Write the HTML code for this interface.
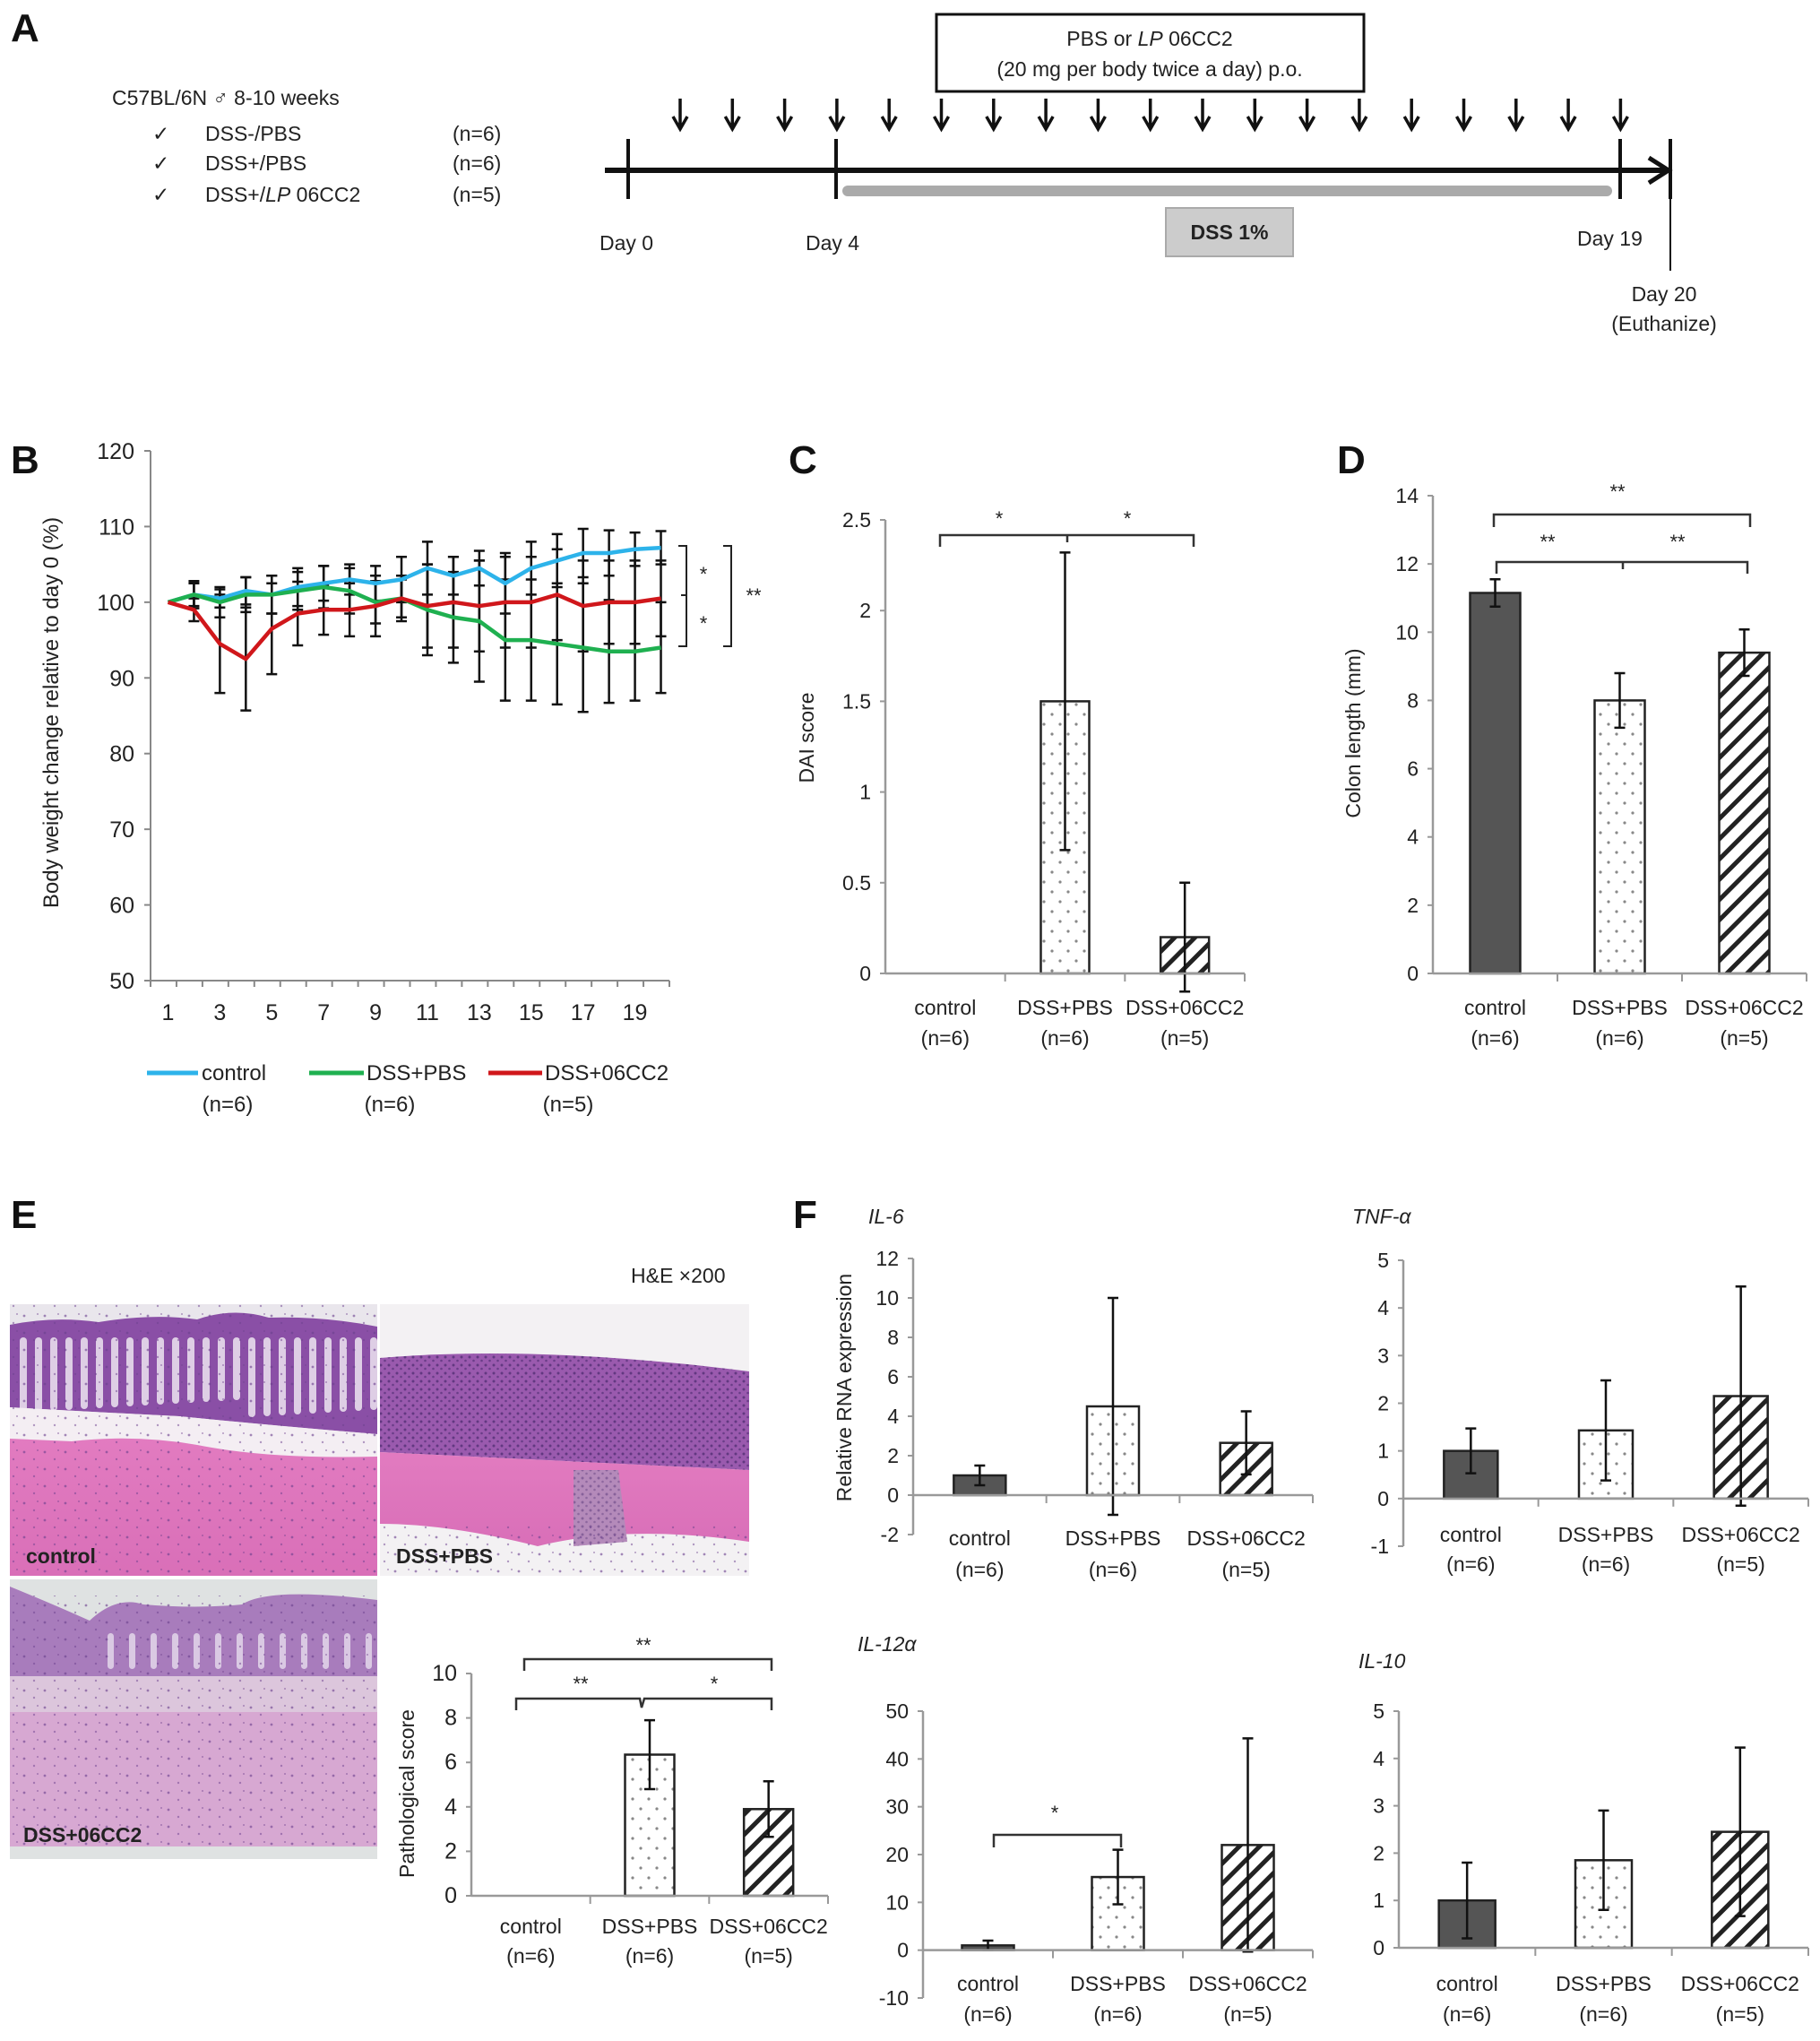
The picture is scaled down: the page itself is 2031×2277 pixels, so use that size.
<!DOCTYPE html>
<html><head><meta charset="utf-8">
<style>
html,body{margin:0;padding:0;background:#fff;}
svg{display:block;}
text{font-family:"Liberation Sans Narrow","Liberation Sans",sans-serif;fill:#222;}
.lbl{font-size:23px;}
.letter{font-family:"Liberation Sans",sans-serif;font-weight:bold;font-size:44px;fill:#111;}
</style></head>
<body>
<svg id="fig" width="2031" height="2277" viewBox="0 0 2031 2277" xmlns="http://www.w3.org/2000/svg">
<defs>
 <pattern id="dots" width="18" height="22" patternUnits="userSpaceOnUse">
  <rect width="18" height="22" fill="#fff"/>
  <circle cx="4" cy="5" r="1.6" fill="#888"/><circle cx="13" cy="16" r="1.6" fill="#888"/>
 </pattern>
 <pattern id="hatch" width="16" height="16" patternUnits="userSpaceOnUse" patternTransform="rotate(45)">
  <rect width="16" height="16" fill="#fff"/><rect x="0" y="0" width="5" height="16" fill="#222"/>
 </pattern>
 <pattern id="nuclei" width="23" height="19" patternUnits="userSpaceOnUse">
  <circle cx="4" cy="5" r="1.4" fill="#6b3f8e" opacity="0.6"/><circle cx="15" cy="13" r="1.2" fill="#6b3f8e" opacity="0.5"/><circle cx="19" cy="3" r="1" fill="#6b3f8e" opacity="0.5"/>
 </pattern>
 <pattern id="inflam" width="9" height="9" patternUnits="userSpaceOnUse">
  <circle cx="2" cy="2" r="1.5" fill="#4a2a6e" opacity="0.7"/><circle cx="6.5" cy="6" r="1.3" fill="#4a2a6e" opacity="0.6"/>
 </pattern>
 <linearGradient id="muscle" x1="0" y1="0" x2="0" y2="1"><stop offset="0" stop-color="#e27bc0"/><stop offset="1" stop-color="#d96fb8"/></linearGradient>
</defs>

<!-- PANEL A -->
<g>
 <text class="letter" x="12" y="46">A</text>
 <text class="lbl" x="125" y="117">C57BL/6N ♂ 8-10 weeks</text>
 <g class="lbl">
  <text class="lbl" x="170" y="157">✓</text><text class="lbl" x="229" y="157">DSS-/PBS</text><text class="lbl" x="505" y="157">(n=6)</text>
  <text class="lbl" x="170" y="190">✓</text><text class="lbl" x="229" y="190">DSS+/PBS</text><text class="lbl" x="505" y="190">(n=6)</text>
  <text class="lbl" x="170" y="225">✓</text><text class="lbl" x="229" y="225">DSS+/<tspan font-style="italic">LP</tspan> 06CC2</text><text class="lbl" x="505" y="225">(n=5)</text>
 </g>
 <rect x="1045" y="16" width="477" height="86" fill="#fff" stroke="#111" stroke-width="3"/>
 <text class="lbl" x="1283" y="51" text-anchor="middle">PBS or <tspan font-style="italic">LP</tspan> 06CC2</text>
 <text class="lbl" x="1283" y="85" text-anchor="middle">(20 mg per body twice a day) p.o.</text>
 <g id="arrows"></g>
 <line x1="675" y1="190" x2="1860" y2="190" stroke="#111" stroke-width="6"/>
 <path d="M1840 176 L1862 190 L1840 204" fill="none" stroke="#111" stroke-width="5"/>
 <line x1="701" y1="155" x2="701" y2="222" stroke="#111" stroke-width="4"/>
 <line x1="933" y1="155" x2="933" y2="222" stroke="#111" stroke-width="4"/>
 <line x1="1808" y1="155" x2="1808" y2="222" stroke="#111" stroke-width="4"/>
 <line x1="1864" y1="155" x2="1864" y2="222" stroke="#111" stroke-width="4"/>
 <line x1="1864" y1="222" x2="1864" y2="302" stroke="#111" stroke-width="2"/>
 <rect x="940" y="207" width="859" height="12" rx="6" fill="#aaa"/>
 <rect x="1301" y="232" width="142" height="54" fill="#ccc" stroke="#aaa" stroke-width="2"/>
 <text class="lbl" x="1372" y="267" text-anchor="middle" font-weight="bold" fill="#555">DSS 1%</text>
 <text class="lbl" x="669" y="279">Day 0</text>
 <text class="lbl" x="899" y="279">Day 4</text>
 <text class="lbl" x="1760" y="274">Day 19</text>
 <text class="lbl" x="1857" y="336" text-anchor="middle">Day 20</text>
 <text class="lbl" x="1857" y="369" text-anchor="middle">(Euthanize)</text>
</g>

<!-- PANEL B -->
<g>
 <text class="letter" x="12" y="528">B</text>
 <g id="bchart"></g>
</g>

<!-- PANEL C, D -->
<text class="letter" x="880" y="528">C</text>
<text class="letter" x="1492" y="528">D</text>
<g id="cchart"></g>
<g id="dchart"></g>

<!-- PANEL E -->
<g>
 <text class="letter" x="12" y="1370">E</text>
 <text class="lbl" x="704" y="1431">H&amp;E ×200</text>
 <g>
  <rect x="11" y="1455" width="410" height="303" fill="#e9e6ec"/>
  <path d="M11 1478 Q60 1468 110 1475 Q170 1465 220 1472 Q260 1458 300 1470 Q360 1468 421 1480 L421 1600 Q300 1590 200 1580 Q100 1575 11 1570 Z" fill="#8a4fa6"/>
  <g id="crypts"></g>
  <path d="M11 1570 Q100 1575 200 1580 Q300 1590 421 1600 L421 1625 Q300 1628 220 1612 Q150 1600 80 1608 L11 1605 Z" fill="#f4eef3"/>
  <path d="M11 1605 L80 1608 Q150 1600 220 1612 Q300 1628 421 1625 L421 1758 L11 1758 Z" fill="url(#muscle)"/>
  <rect x="11" y="1455" width="410" height="303" fill="url(#nuclei)"/>
  <text x="29" y="1744" font-size="23" font-weight="bold" fill="#333">control</text>
 </g>
 <g>
  <rect x="424" y="1455" width="412" height="303" fill="#f3f1f3"/>
  <path d="M424 1515 Q600 1500 836 1530 L836 1640 L424 1620 Z" fill="#9a5aae"/>
  <path d="M424 1515 Q600 1500 836 1530 L836 1640 L424 1620 Z" fill="url(#inflam)"/>
  <path d="M424 1620 L836 1640 L836 1720 Q700 1700 600 1725 Q500 1700 424 1700 Z" fill="url(#muscle)"/>
  <path d="M640 1640 L690 1640 L700 1720 L640 1725 Z" fill="#b48aba"/>
  <path d="M640 1640 L690 1640 L700 1720 L640 1725 Z" fill="url(#inflam)" opacity="0.6"/>
  <rect x="424" y="1700" width="412" height="58" fill="url(#nuclei)"/>
  <text x="442" y="1744" font-size="23" font-weight="bold" fill="#333">DSS+PBS</text>
 </g>
 <g>
  <rect x="11" y="1762" width="410" height="312" fill="#dfe2e2"/>
  <path d="M11 1770 Q60 1790 100 1808 Q130 1780 160 1790 Q220 1795 270 1790 Q300 1770 421 1785 L421 1870 L11 1870 Z" fill="#a87cbc"/>
  <g id="crypts2"></g>
  <path d="M11 1870 L421 1870 L421 1910 L11 1910 Z" fill="#dcc6dc"/>
  <path d="M11 1910 L421 1910 L421 2060 L11 2060 Z" fill="#d7a8d2"/>
  <rect x="11" y="1780" width="410" height="280" fill="url(#nuclei)"/>
  <text x="26" y="2055" font-size="23" font-weight="bold" fill="#333">DSS+06CC2</text>
 </g>
 <g id="echart"></g>
</g>

<!-- PANEL F -->
<g>
 <text class="letter" x="885" y="1370">F</text>
 <text class="lbl" x="969" y="1365" font-style="italic">IL-6</text>
 <text class="lbl" x="1509" y="1365" font-style="italic">TNF-α</text>
 <text class="lbl" x="957" y="1842" font-style="italic">IL-12α</text>
 <text class="lbl" x="1516" y="1861" font-style="italic">IL-10</text>
 <g id="il6"></g>
 <g id="tnf"></g>
 <g id="il12"></g>
 <g id="il10"></g>
</g>
</svg>

<script>
// ===== DATA =====
const cats = ['control','DSS+PBS','DSS+06CC2'];
const catNs = ['(n=6)','(n=6)','(n=5)'];
const days = [1,2,3,4,5,6,7,8,9,10,11,12,13,14,15,16,17,18,19,20];
const dayTicks = [1,3,5,7,9,11,13,15,17,19];
const bwTicks = [50,60,70,80,90,100,110,120];
const controlWeight = [100,101,100.5,101.5,101,102,102.5,103,102.5,103,104.5,103.5,104.5,102.5,104.5,105.5,106.5,106.5,107,107.2];
const controlErr = [0,1.5,1.2,1.8,2.5,2.5,2.3,2,2.3,3,3.5,2.5,2.3,4,3.5,3.5,3.2,3,2.2,2.2];
const pbsWeight = [100,101,100,101,101,101.5,102,101.5,100,100.5,99,98,97.5,95,95,94.5,94,93.5,93.5,94];
const pbsErr = [0,1.8,2,2.3,2.5,2.5,2.8,3,2.8,3,6,6,8,8,8,8,8.5,6.8,6.5,6];
const lpWeight = [100,99,94.5,92.5,96.5,98.5,99,99,99.5,100.5,99.5,100,99.5,100,100,101,99.5,100,100,100.5];
const lpErr = [0,1.5,6.5,6.8,6,4.2,3.3,3.5,4,2.5,5.5,6,6,6,6,6,6,5.5,5.5,5];

const daiTicks = [0,0.5,1,1.5,2,2.5];
const daiVals = [0,1.5,0.2];
const daiErr = [0,0.82,0.3];
const colonTicks = [0,2,4,6,8,10,12,14];
const colonVals = [11.15,8.0,9.4];
const colonErr = [0.4,0.8,0.68];
const pathTicks = [0,2,4,6,8,10];
const pathVals = [0,6.35,3.9];
const pathErr = [0,1.55,1.25];
const il6Ticks = [-2,0,2,4,6,8,10,12];
const il6Vals = [1,4.5,2.65];
const il6Err = [0.5,5.5,1.6];
const tnfTicks = [-1,0,1,2,3,4,5];
const tnfVals = [1,1.43,2.15];
const tnfErr = [0.47,1.05,2.3];
const il12Ticks = [-10,0,10,20,30,40,50];
const il12Vals = [1,15.3,22];
const il12Err = [1,5.7,22.3];
const il10Ticks = [0,1,2,3,4,5];
const il10Vals = [1,1.85,2.45];
const il10Err = [0.8,1.05,1.78];

// ===== HELPERS =====
const NS='http://www.w3.org/2000/svg';
function mk(parent, tag, attrs, txt){
  const e=document.createElementNS(NS,tag);
  for(const k in attrs) e.setAttribute(k,attrs[k]);
  if(txt!==undefined) e.textContent=txt;
  parent.appendChild(e); return e;
}

// histology crypts (decoration)
(function(){
  const g=document.getElementById('crypts');
  for(let x=22;x<415;x+=17){
    const c=mk(g,'rect',{x:x,y:1492,width:8,height:70+((x*7)%20),rx:4,fill:'#ece4f0',opacity:0.85});
    
    
  }
  const g2=document.getElementById('crypts2');
  for(let x=120;x<415;x+=24){
    const c=mk(g2,'rect',{x:x,y:1822,width:7,height:40+((x*5)%15),rx:3.5,fill:'#e6dcec',opacity:0.8});
    
    
  }
})();

// arrows
(function(){
  const g=document.getElementById('arrows');
  for(let i=0;i<19;i++){
    const x=759+i*58.3;
    const a=mk(g,'path',{d:`M${x} 110 L${x} 143 M${x-8} 130 L${x} 144 L${x+8} 130`,fill:'none',stroke:'#111','stroke-width':3.5});
    
    
  }
})();

// ===== LINE CHART B =====
(function(){
  const g=document.getElementById('bchart');
  const x0=168,x1=747,yTopPx=503,yBotPx=1094,vMin=50,vMax=120;
  const slot=(x1-x0)/days.length;
  const X=d=>x0+slot*(d-0.5)+5;
  const Y=v=>yBotPx-(v-vMin)/(vMax-vMin)*(yBotPx-yTopPx);
  mk(g,'line',{x1:x0,y1:yTopPx,x2:x0,y2:yBotPx,stroke:'#888','stroke-width':2});
  mk(g,'line',{x1:x0,y1:yBotPx,x2:x1,y2:yBotPx,stroke:'#888','stroke-width':2});
  bwTicks.forEach(t=>{
    mk(g,'line',{x1:x0-7,y1:Y(t),x2:x0,y2:Y(t),stroke:'#888','stroke-width':2});
    const tl=mk(g,'text',{x:x0-18,y:Y(t)+9,'text-anchor':'end','font-size':25},t);
    
    
  });
  for(let i=0;i<=days.length;i++) mk(g,'line',{x1:x0+i*slot,y1:yBotPx,x2:x0+i*slot,y2:yBotPx+7,stroke:'#888','stroke-width':2});
  dayTicks.forEach(d=>{
    const tl=mk(g,'text',{x:X(d),y:1138,'text-anchor':'middle','font-size':25},d);
    
    
  });
  const yt=mk(g,'text',{x:0,y:0,'text-anchor':'middle','font-size':24,transform:'translate(65,795) rotate(-90)'},'Body weight change relative to day 0  (%)');
  
  
  const series=[[controlWeight,controlErr,'#2db3ea','control'],[pbsWeight,pbsErr,'#1fb050','dss-pbs'],[lpWeight,lpErr,'#d0171b','dss-06cc2']];
  series.forEach(([vals,errs,col,nm])=>{
    vals.forEach((v,i)=>{
      if(errs[i]>0){
        const x=X(days[i]);
        const eb=mk(g,'path',{d:`M${x} ${Y(v+errs[i])} L${x} ${Y(v-errs[i])} M${x-6} ${Y(v+errs[i])} L${x+6} ${Y(v+errs[i])} M${x-6} ${Y(v-errs[i])} L${x+6} ${Y(v-errs[i])}`,stroke:'#111','stroke-width':2.5,fill:'none'});
        
        
      }
    });
  });
  series.forEach(([vals,errs,col,nm])=>{
    const pts=vals.map((v,i)=>X(days[i])+','+Y(v)).join(' ');
    const pl=mk(g,'polyline',{points:pts,fill:'none',stroke:col,'stroke-width':4.5,'stroke-linejoin':'round'});
    
    
  });
  mk(g,'path',{d:'M757 609 L766 609 L766 721 L757 721 M766 664 L760 664',fill:'none',stroke:'#222','stroke-width':2});
  mk(g,'path',{d:'M807 609 L816 609 L816 721 L807 721',fill:'none',stroke:'#222','stroke-width':2});
  mk(g,'text',{x:785,y:648,'text-anchor':'middle','font-size':22},'*');
  mk(g,'text',{x:785,y:703,'text-anchor':'middle','font-size':22},'*');
  mk(g,'text',{x:841,y:672,'text-anchor':'middle','font-size':22},'**');
  const leg=[[164,221,225,254,'#2db3ea','control'],[345,406,409,435,'#1fb050','DSS+PBS'],[545,605,608,634,'#d0171b','DSS+06CC2']];
  leg.forEach(([a,b,tx,nx,col,lab],i)=>{
    const lg=mk(g,'g',{});
    
    
    mk(lg,'line',{x1:a,y1:1197,x2:b,y2:1197,stroke:col,'stroke-width':5});
    mk(lg,'text',{x:tx,y:1205,'font-size':24},lab);
    mk(lg,'text',{x:nx,y:1240,'font-size':24,'text-anchor':'middle'},catNs[i]);
  });
})();

// ===== BAR CHARTS =====
function barChart(id,cfg,ticks,vals,errs,title){
  const g=document.getElementById(id);
  const {x0,x1,pTop,pBot,vMin,vMax,bw,labY,labY2}=cfg;
  const Y=v=>pBot-(v-vMin)/(vMax-vMin)*(pBot-pTop);
  const slot=(x1-x0)/3;
  const C=i=>x0+slot*(i+0.5);
  mk(g,'line',{x1:x0,y1:pTop,x2:x0,y2:pBot,stroke:'#999','stroke-width':2.5});
  ticks.forEach(t=>{
    mk(g,'line',{x1:x0-6,y1:Y(t),x2:x0,y2:Y(t),stroke:'#999','stroke-width':2});
    const tl=mk(g,'text',{x:x0-16,y:Y(t)+8,'text-anchor':'end','font-size':cfg.fs||23},t);
    
    
  });
  const fills=['#555','url(#dots)','url(#hatch)'];
  vals.forEach((v,i)=>{
    const top=Y(Math.max(v,0)), base=Y(0);
    if(v!==0){
      const r=mk(g,'rect',{x:C(i)-bw/2,y:top,width:bw,height:base-top,fill:fills[i],stroke:'#222','stroke-width':2.5});
      
      
    }
    if(errs[i]>0){
      const x=C(i),a=Y(v+errs[i]),b=Y(v-errs[i]);
      const eb=mk(g,'path',{d:`M${x} ${a} L${x} ${b} M${x-6} ${a} L${x+6} ${a} M${x-6} ${b} L${x+6} ${b}`,stroke:'#111','stroke-width':2.5,fill:'none'});
      
      
    }
  });
  const zy=Y(0);
  mk(g,'line',{x1:x0,y1:zy,x2:x1,y2:zy,stroke:'#999','stroke-width':2.5});
  for(let i=1;i<=3;i++) mk(g,'line',{x1:x0+slot*i,y1:zy,x2:x0+slot*i,y2:zy+9,stroke:'#999','stroke-width':2});
  cats.forEach((c,i)=>{
    const t1=mk(g,'text',{x:C(i),y:labY,'text-anchor':'middle','font-size':23},c);
    
    
    mk(g,'text',{x:C(i),y:labY2,'text-anchor':'middle','font-size':23},catNs[i]);
  });
  if(title){
    const yt=mk(g,'text',{x:0,y:0,'text-anchor':'middle','font-size':23,transform:`translate(${title[1]},${title[2]}) rotate(-90)`},title[0]);
    
    
  }
  return g;
}
function bracket(g,d,stars){
  mk(g,'path',{d:d,fill:'none',stroke:'#333','stroke-width':2.5});
  stars.forEach(([x,y,s])=>mk(g,'text',{x:x,y:y,'text-anchor':'middle','font-size':22},s));
}

let g;
g=barChart('cchart',{x0:988,x1:1389,pTop:580,pBot:1086,vMin:0,vMax:2.5,bw:54,labY:1132,labY2:1166},daiTicks,daiVals,daiErr,['DAI  score',908,823]);
bracket(g,'M1049 610 L1049 597 L1332 597 L1332 610 M1191 597 L1191 605',[[1115,586,'*'],[1258,586,'*']]);
g=barChart('dchart',{x0:1599,x1:2016,pTop:553,pBot:1086,vMin:0,vMax:14,bw:56,labY:1132,labY2:1166},colonTicks,colonVals,colonErr,['Colon length  (mm)',1518,818]);
bracket(g,'M1667 588 L1667 574 L1953 574 L1953 588',[[1805,556,'**']]);
bracket(g,'M1670 640 L1670 627 L1950 627 L1950 640 M1811 627 L1811 635',[[1727,612,'**'],[1872,612,'**']]);
g=barChart('echart',{x0:526,x1:924,pTop:1867,pBot:2115,vMin:0,vMax:10,bw:55,labY:2157,labY2:2190,fs:25},pathTicks,pathVals,pathErr,['Pathological score',462,2001]);
bracket(g,'M585 1864 L585 1851 L861 1851 L861 1864',[[718,1843,'**']]);
bracket(g,'M576 1908 L576 1895 L714 1895 L716 1905 L719 1895 L861 1895 L861 1908',[[648,1886,'**'],[797,1886,'*']]);
barChart('il6',{x0:1019,x1:1465,pTop:1404,pBot:1712,vMin:-2,vMax:12,bw:58,labY:1724,labY2:1759},il6Ticks,il6Vals,il6Err,['Relative RNA expression',950,1548]);
barChart('tnf',{x0:1566,x1:2018,pTop:1406,pBot:1725,vMin:-1,vMax:5,bw:60,labY:1720,labY2:1753},tnfTicks,tnfVals,tnfErr,null);
g=barChart('il12',{x0:1030,x1:1465,pTop:1909,pBot:2229,vMin:-10,vMax:50,bw:58,labY:2221,labY2:2255},il12Ticks,il12Vals,il12Err,null);
bracket(g,'M1109 2061 L1109 2047 L1251 2047 L1251 2061',[[1177,2030,'*']]);
barChart('il10',{x0:1561,x1:2018,pTop:1909,pBot:2173,vMin:0,vMax:5,bw:63,labY:2221,labY2:2255},il10Ticks,il10Vals,il10Err,null);
</script>
</body></html>
